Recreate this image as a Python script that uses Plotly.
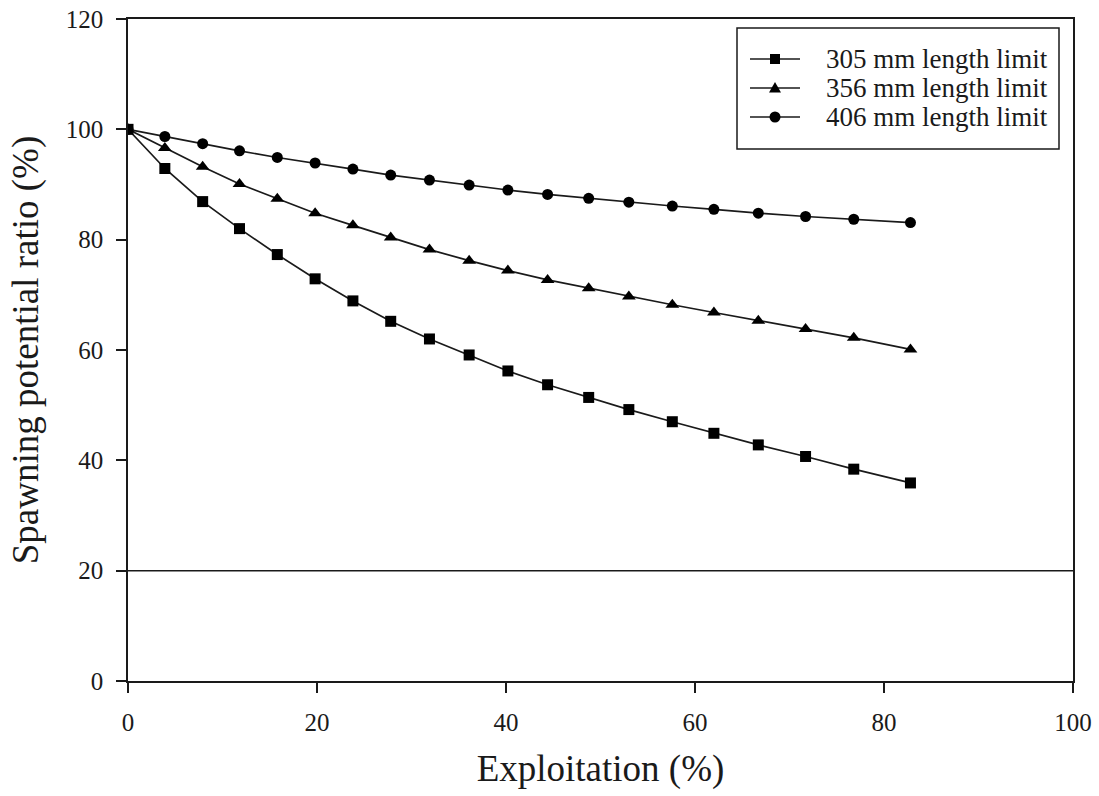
import plotly.graph_objects as go

# Exploitation rate (%) at which spawning potential ratio was evaluated
exploitation = [0, 3.9, 7.9, 11.8, 15.8, 19.8, 23.8, 27.8, 31.9, 36.1,
                40.2, 44.4, 48.75, 53.0, 57.6, 62.0, 66.7, 71.7, 76.8, 82.8]

# Spawning potential ratio (%) for each minimum length limit
spr_305 = [100, 92.9, 86.9, 82.0, 77.3, 72.9, 68.9, 65.2, 62.0, 59.1,
           56.2, 53.7, 51.4, 49.2, 47.0, 44.9, 42.8, 40.7, 38.4, 35.9]
spr_356 = [100, 96.6, 93.2, 90.1, 87.4, 84.8, 82.6, 80.4, 78.2, 76.2,
           74.4, 72.7, 71.2, 69.7, 68.2, 66.8, 65.3, 63.8, 62.2, 60.1]
spr_406 = [100, 98.7, 97.4, 96.1, 94.9, 93.9, 92.8, 91.7, 90.8, 89.9,
           89.0, 88.2, 87.5, 86.8, 86.1, 85.5, 84.8, 84.2, 83.7, 83.1]

series_names = ["305 mm length limit", "356 mm length limit", "406 mm length limit"]
series_values = [spr_305, spr_356, spr_406]
series_symbols = ["square", "triangle-up", "circle"]

reference_level = 20  # SPR threshold line

x_ticks = [0, 20, 40, 60, 80, 100]
y_ticks = [0, 20, 40, 60, 80, 100, 120]

FONT = "Liberation Serif, Times New Roman, serif"
INK = "#1a1a1a"

W, H = 1099, 796
M_L, M_R, M_T, M_B = 128, 26, 19, 115
PLOT_W = W - M_L - M_R
PLOT_H = H - M_T - M_B


def px_to_paper(px, py):
    """Convert a pixel position on the page to paper coordinates."""
    return (px - M_L) / PLOT_W, (H - M_B - py) / PLOT_H


fig = go.Figure()
for name, vals, sym in zip(series_names, series_values, series_symbols):
    fig.add_trace(go.Scatter(
        x=exploitation, y=vals, name=name, mode="lines+markers",
        line=dict(color=INK, width=1.7),
        marker=dict(symbol=sym, size=11 if sym != "triangle-up" else 12,
                    color="black", line=dict(width=0)),
        showlegend=False,
    ))

fig.add_shape(type="line", xref="paper", x0=0, x1=1, yref="y",
              y0=reference_level, y1=reference_level,
              line=dict(color=INK, width=1.5))

# Boxed legend in the upper right corner
bx0, by0 = px_to_paper(737, 28)
bx1, by1 = px_to_paper(1059, 149)
fig.add_shape(type="rect", xref="paper", yref="paper",
              x0=bx0, x1=bx1, y0=by1, y1=by0,
              line=dict(color=INK, width=1.5), fillcolor="white", layer="above")

row_y = [59, 88, 117]
for name, sym, ry in zip(series_names, series_symbols, row_y):
    lx0, ly = px_to_paper(750, ry)
    lx1, _ = px_to_paper(800, ry)
    fig.add_shape(type="line", xref="paper", yref="paper",
                  x0=lx0, x1=lx1, y0=ly, y1=ly,
                  line=dict(color=INK, width=1.7), layer="above")
    cx, cy = 775, ry
    r = 5
    if sym == "square":
        a0, b0 = px_to_paper(cx - r, cy + r)
        a1, b1 = px_to_paper(cx + r, cy - r)
        fig.add_shape(type="rect", xref="paper", yref="paper",
                      x0=a0, x1=a1, y0=b0, y1=b1,
                      line=dict(width=0), fillcolor="black", layer="above")
    elif sym == "circle":
        a0, b0 = px_to_paper(cx - r - 0.5, cy + r + 0.5)
        a1, b1 = px_to_paper(cx + r + 0.5, cy - r - 0.5)
        fig.add_shape(type="circle", xref="paper", yref="paper",
                      x0=a0, x1=a1, y0=b0, y1=b1,
                      line=dict(width=0), fillcolor="black", layer="above")
    else:
        p1 = px_to_paper(cx, cy - 6)
        p2 = px_to_paper(cx - 6, cy + 4.5)
        p3 = px_to_paper(cx + 6, cy + 4.5)
        fig.add_shape(type="path", xref="paper", yref="paper",
                      path=f"M {p1[0]},{p1[1]} L {p2[0]},{p2[1]} L {p3[0]},{p3[1]} Z",
                      line=dict(width=0), fillcolor="black", layer="above")
    tx, ty = px_to_paper(824, ry)
    fig.add_annotation(xref="paper", yref="paper", x=tx, y=ty, text=name,
                       showarrow=False, xanchor="left", yanchor="middle",
                       font=dict(family=FONT, size=27, color=INK))

axis_common = dict(
    showline=True, linecolor=INK, linewidth=1.5, mirror=True,
    ticks="outside", ticklen=10, tickwidth=1.5, tickcolor=INK,
    showgrid=False, zeroline=False, automargin=False,
    tickfont=dict(family=FONT, size=25, color=INK),
)

fig.update_xaxes(range=[0, 100], tickvals=x_ticks, ticklabelstandoff=8,
                 title=dict(text="Exploitation (%)",
                            font=dict(family=FONT, size=37, color=INK),
                            standoff=20),
                 **axis_common)
fig.update_yaxes(range=[0, 120], tickvals=y_ticks, ticklabelstandoff=8,
                 title=dict(text="Spawning potential ratio (%)",
                            font=dict(family=FONT, size=37, color=INK),
                            standoff=16),
                 **axis_common)

fig.update_layout(
    width=W, height=H,
    margin=dict(l=M_L, r=M_R, t=M_T, b=M_B),
    paper_bgcolor="white", plot_bgcolor="white",
    font=dict(family=FONT, color=INK),
    showlegend=False,
)

fig.write_html("out.html")
